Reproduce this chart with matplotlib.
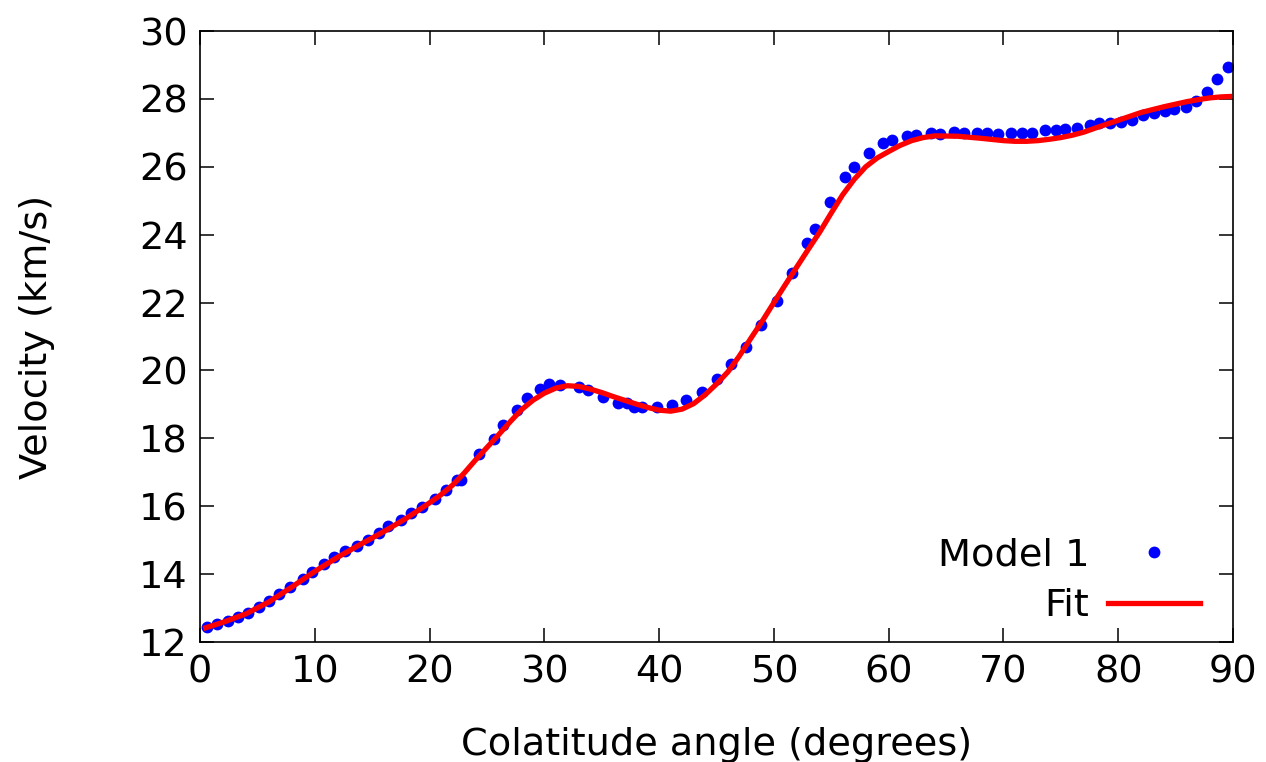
import numpy as np
import matplotlib
matplotlib.use("Agg")
import matplotlib.pyplot as plt

# Model 1 samples (colatitude deg, velocity km/s)
model_x = [0.6, 1.5, 2.4, 3.3, 4.2, 5.1, 6.0, 6.9, 7.8, 9.0, 9.8, 10.8, 11.7,
           12.6, 13.7, 14.6, 15.6, 16.4, 17.5, 18.4, 19.3, 20.5, 21.4, 22.4,
           22.7, 24.3, 25.6, 26.4, 27.6, 28.5, 29.6, 30.4, 31.4, 33.0, 33.8,
           35.1, 36.4, 37.2, 37.8, 38.5, 39.8, 41.1, 42.3, 43.7, 45.0, 46.3,
           47.6, 48.9, 50.3, 51.6, 52.9, 53.6, 54.9, 56.2, 57.0, 58.3, 59.5,
           60.3, 61.6, 62.4, 63.7, 64.5, 65.7, 66.6, 67.7, 68.6, 69.5, 70.7,
           71.6, 72.5, 73.6, 74.6, 75.4, 76.4, 77.5, 78.3, 79.3, 80.2, 81.2,
           82.2, 83.1, 84.1, 84.9, 85.9, 86.8, 87.7, 88.6, 89.6]
model_v = [12.45, 12.52, 12.62, 12.73, 12.86, 13.04, 13.22, 13.41, 13.63, 13.86,
           14.07, 14.30, 14.51, 14.69, 14.83, 15.00, 15.22, 15.43, 15.59, 15.79,
           15.99, 16.20, 16.48, 16.77, 16.77, 17.53, 17.97, 18.38, 18.84, 19.18,
           19.44, 19.61, 19.57, 19.50, 19.42, 19.21, 19.05, 19.03, 18.93, 18.93,
           18.93, 18.98, 19.13, 19.37, 19.74, 20.19, 20.70, 21.34, 22.06, 22.88,
           23.75, 24.16, 24.97, 25.69, 25.99, 26.42, 26.69, 26.79, 26.92, 26.94,
           26.99, 26.97, 27.02, 26.99, 27.00, 26.99, 26.97, 27.00, 27.00, 27.00,
           27.08, 27.08, 27.10, 27.13, 27.23, 27.28, 27.30, 27.33, 27.38, 27.53,
           27.58, 27.63, 27.70, 27.77, 27.95, 28.21, 28.59, 28.93]

# fitted curve
fit_x = [0.5, 2, 4, 6, 8, 10, 12, 14, 16, 18, 20, 21, 22, 23, 24, 25, 26, 27,
         28, 29, 30, 31, 32, 33, 34, 35, 36, 37, 38, 39, 40, 41, 42, 43, 44,
         45, 46, 47, 48, 49, 50, 51, 52, 53, 54, 55, 56, 57, 58, 59, 60, 61,
         62, 63, 64, 66, 68, 70, 71, 72, 73, 74, 75, 76, 77, 78, 80, 82, 84,
         86, 87, 88, 89, 89.7]
fit_v = [12.42, 12.58, 12.83, 13.18, 13.62, 14.08, 14.50, 14.88, 15.25, 15.65,
         16.10, 16.34, 16.62, 16.97, 17.36, 17.73, 18.10, 18.48, 18.84, 19.12,
         19.33, 19.48, 19.55, 19.53, 19.45, 19.35, 19.23, 19.12, 19.01, 18.91,
         18.83, 18.80, 18.86, 19.02, 19.28, 19.60, 19.96, 20.43, 20.95, 21.46,
         22.00, 22.53, 23.05, 23.57, 24.08, 24.64, 25.18, 25.63, 26.00, 26.26,
         26.45, 26.63, 26.77, 26.86, 26.91, 26.90, 26.84, 26.77, 26.75, 26.75,
         26.77, 26.81, 26.86, 26.93, 27.02, 27.14, 27.37, 27.60, 27.77, 27.92,
         27.98, 28.03, 28.06, 28.07]

xticks = list(range(0, 91, 10))
yticks = list(range(12, 31, 2))

plt.rcParams['font.family'] = ['DejaVu Sans']
fig = plt.figure(figsize=(12.66, 7.62), dpi=100)
ax = fig.add_axes([200 / 1266, 1 - 642 / 762, 1033 / 1266, 611 / 762])

ax.plot(model_x, model_v, 'o', color='#0000ff', markersize=8.5,
        markeredgewidth=0, label='Model 1', zorder=2)
ax.plot(fit_x, fit_v, '-', color='#ff0000', linewidth=3.8,
        solid_joinstyle='round', label='Fit', zorder=3)

ax.set_xlim(0, 90)
ax.set_ylim(12, 30)
ax.set_xticks(xticks)
ax.set_yticks(yticks)
ax.tick_params(direction='in', length=10, width=1.1, labelsize=27.5,
               top=True, right=True, pad=9)
for s in ax.spines.values():
    s.set_linewidth(1.2)

ax.set_xlabel('Colatitude angle (degrees)', fontsize=27.5, labelpad=26)
ax.set_ylabel('Velocity (km/s)', fontsize=27.5, labelpad=60)

ax.legend(loc='lower right', frameon=False, markerfirst=False, fontsize=27.5,
          handlelength=2.4, handletextpad=0.5, borderaxespad=0.0,
          labelspacing=0.4, bbox_to_anchor=(0.983, 0.004))

fig.savefig('out.png', dpi=100)
